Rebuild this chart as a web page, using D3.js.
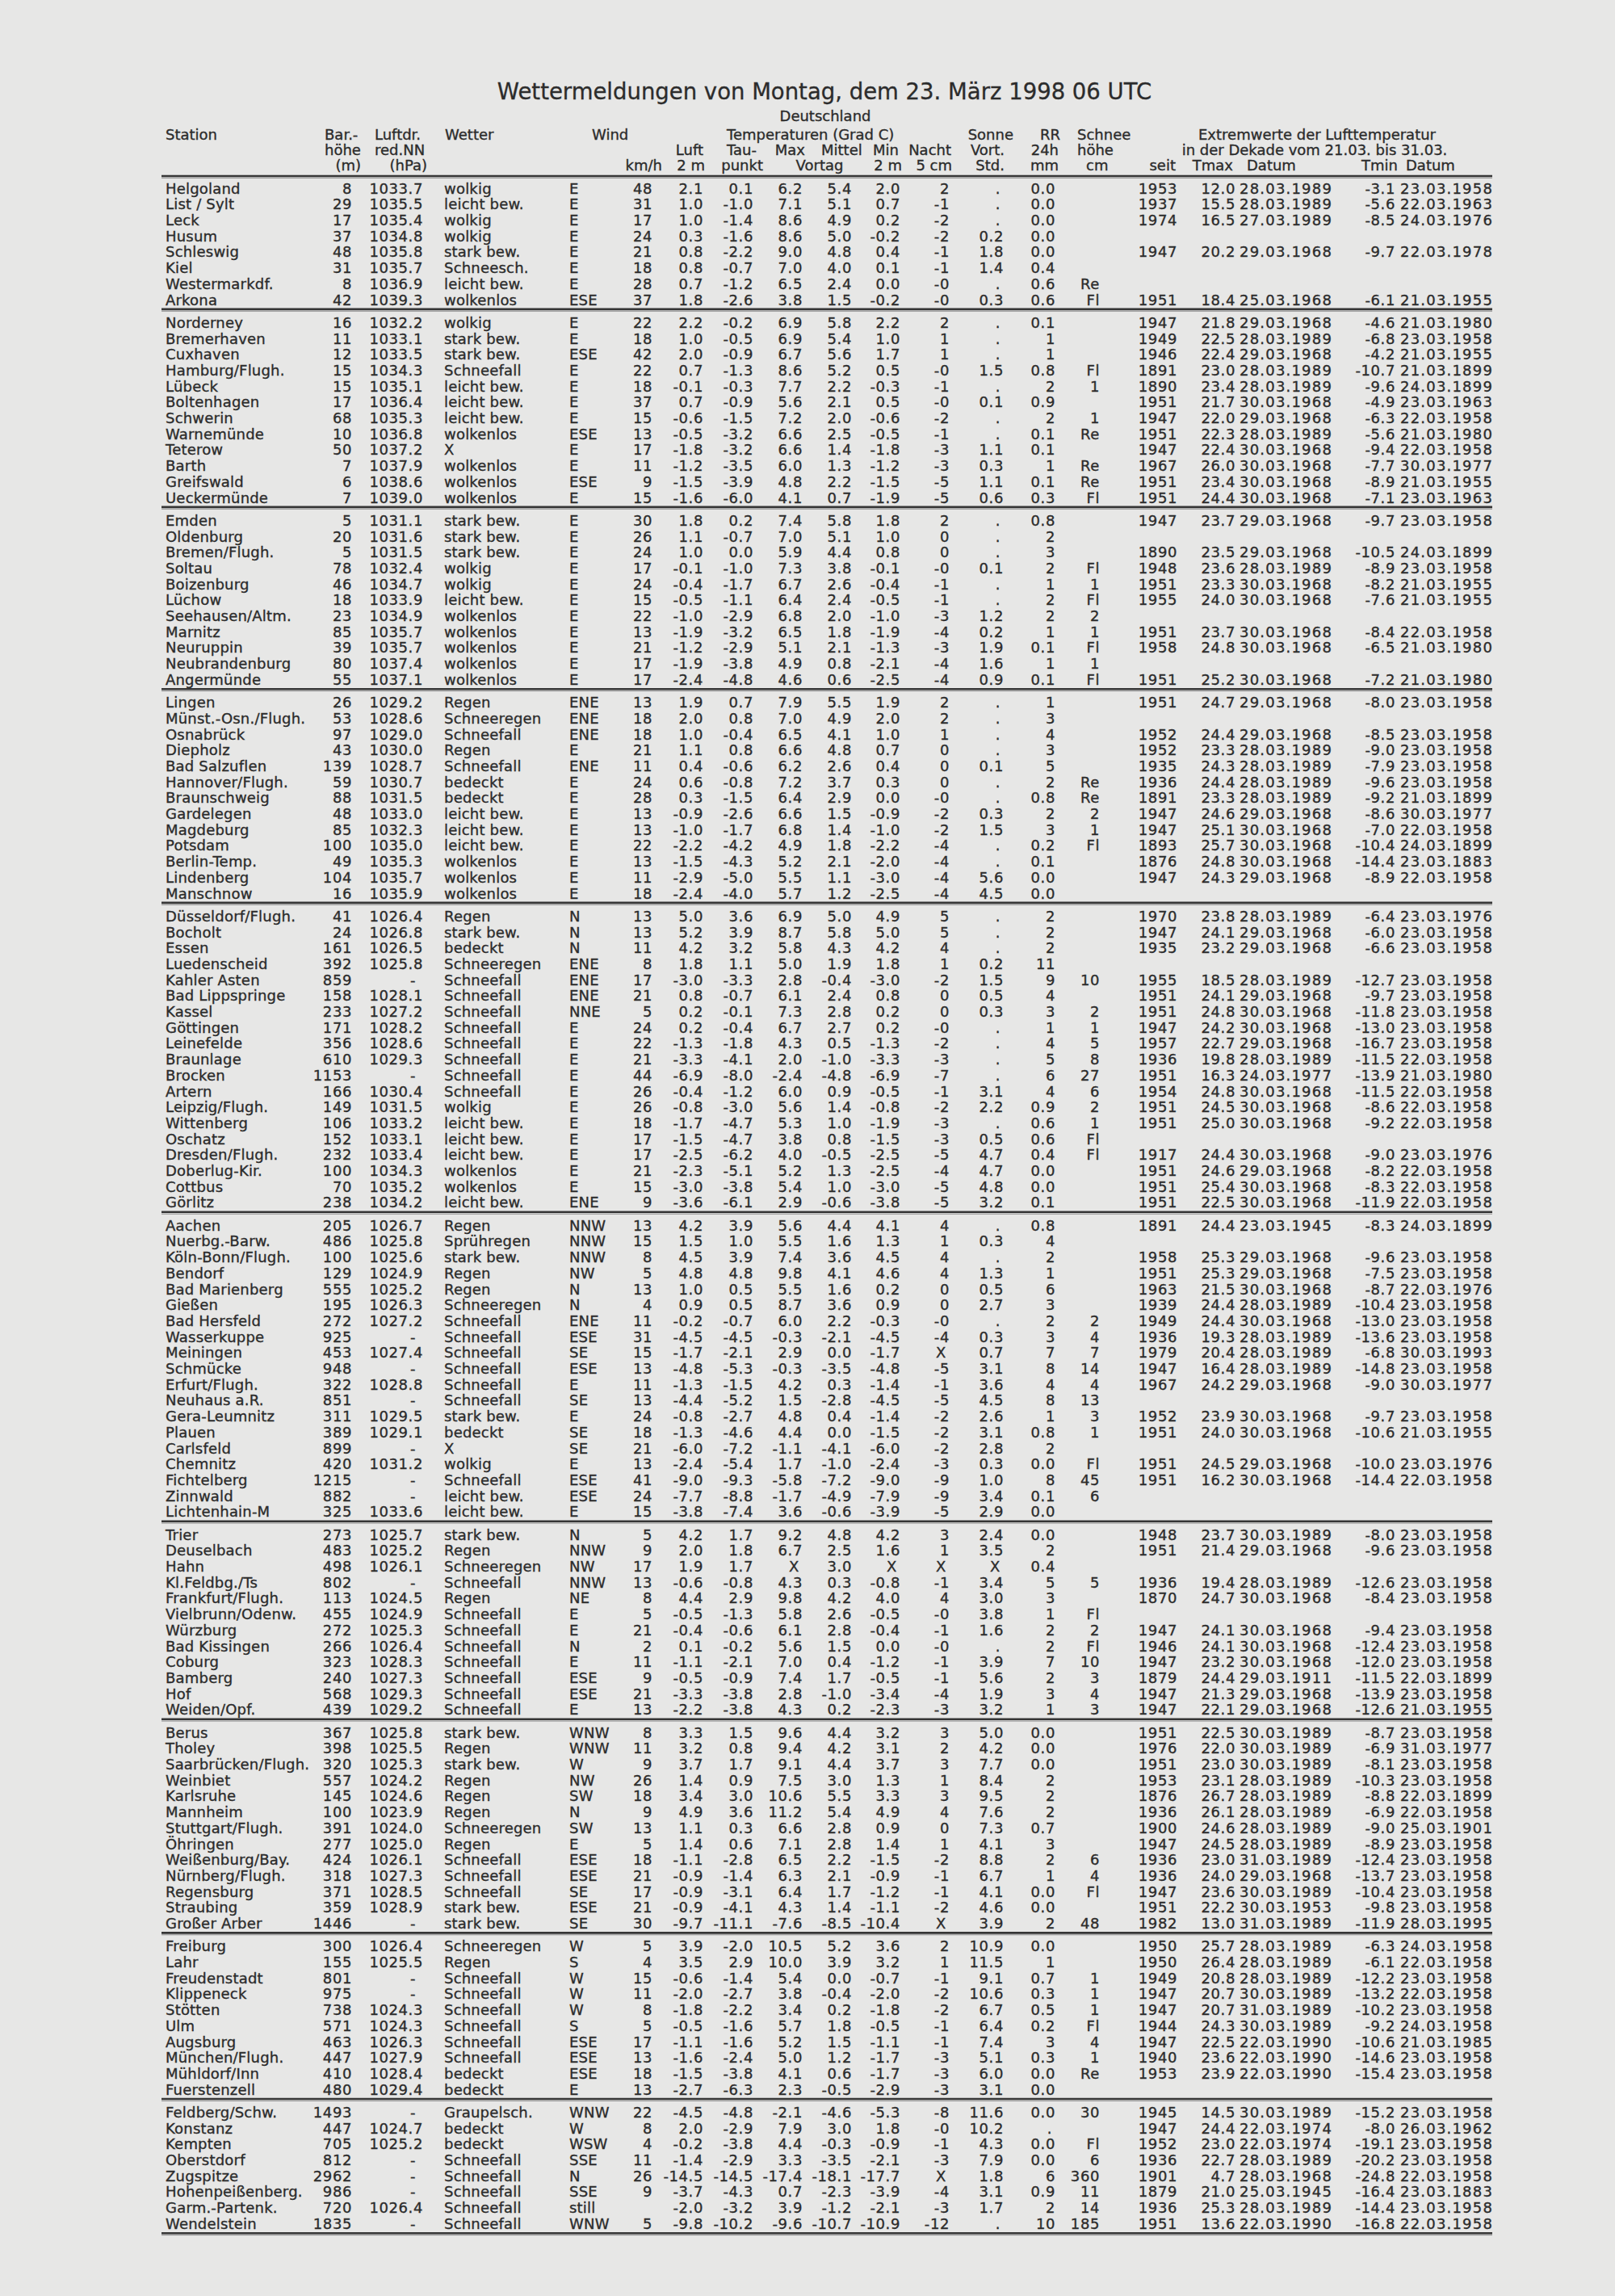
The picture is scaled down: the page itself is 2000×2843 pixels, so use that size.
<!DOCTYPE html>
<html><head><meta charset="utf-8">
<script src="https://cdn.jsdelivr.net/npm/d3@7"></script>
<style>
html,body{margin:0;padding:0;background:#e7e7e6;}
svg{display:block;}
text{font-family:"DejaVu Sans",sans-serif;fill:#2c2c2c;stroke:#2c2c2c;stroke-width:0.35px;}
</style></head><body><div id="chart"></div>
<script>
// ---------------- DATA ----------------
const title = "Wettermeldungen von Montag, dem 23. März 1998 06 UTC";
const subtitle = "Deutschland";
const sectionSizes = [8,12,11,13,19,19,12,13,10,8];

const stations = [
 "Helgoland","List / Sylt","Leck","Husum","Schleswig","Kiel","Westermarkdf.","Arkona",
 "Norderney","Bremerhaven","Cuxhaven","Hamburg/Flugh.","Lübeck","Boltenhagen","Schwerin","Warnemünde","Teterow","Barth","Greifswald","Ueckermünde",
 "Emden","Oldenburg","Bremen/Flugh.","Soltau","Boizenburg","Lüchow","Seehausen/Altm.","Marnitz","Neuruppin","Neubrandenburg","Angermünde",
 "Lingen","Münst.-Osn./Flugh.","Osnabrück","Diepholz","Bad Salzuflen","Hannover/Flugh.","Braunschweig","Gardelegen","Magdeburg","Potsdam","Berlin-Temp.","Lindenberg","Manschnow",
 "Düsseldorf/Flugh.","Bocholt","Essen","Luedenscheid","Kahler Asten","Bad Lippspringe","Kassel","Göttingen","Leinefelde","Braunlage","Brocken","Artern","Leipzig/Flugh.","Wittenberg","Oschatz","Dresden/Flugh.","Doberlug-Kir.","Cottbus","Görlitz",
 "Aachen","Nuerbg.-Barw.","Köln-Bonn/Flugh.","Bendorf","Bad Marienberg","Gießen","Bad Hersfeld","Wasserkuppe","Meiningen","Schmücke","Erfurt/Flugh.","Neuhaus a.R.","Gera-Leumnitz","Plauen","Carlsfeld","Chemnitz","Fichtelberg","Zinnwald","Lichtenhain-M",
 "Trier","Deuselbach","Hahn","Kl.Feldbg./Ts","Frankfurt/Flugh.","Vielbrunn/Odenw.","Würzburg","Bad Kissingen","Coburg","Bamberg","Hof","Weiden/Opf.",
 "Berus","Tholey","Saarbrücken/Flugh.","Weinbiet","Karlsruhe","Mannheim","Stuttgart/Flugh.","Öhringen","Weißenburg/Bay.","Nürnberg/Flugh.","Regensburg","Straubing","Großer Arber",
 "Freiburg","Lahr","Freudenstadt","Klippeneck","Stötten","Ulm","Augsburg","München/Flugh.","Mühldorf/Inn","Fuerstenzell",
 "Feldberg/Schw.","Konstanz","Kempten","Oberstdorf","Zugspitze","Hohenpeißenberg.","Garm.-Partenk.","Wendelstein"];

const barHeight = [
 "8","29","17","37","48","31","8","42",
 "16","11","12","15","15","17","68","10","50","7","6","7",
 "5","20","5","78","46","18","23","85","39","80","55",
 "26","53","97","43","139","59","88","48","85","100","49","104","16",
 "41","24","161","392","859","158","233","171","356","610","1153","166","149","106","152","232","100","70","238",
 "205","486","100","129","555","195","272","925","453","948","322","851","311","389","899","420","1215","882","325",
 "273","483","498","802","113","455","272","266","323","240","568","439",
 "367","398","320","557","145","100","391","277","424","318","371","359","1446",
 "300","155","801","975","738","571","463","447","410","480",
 "1493","447","705","812","2962","986","720","1835"];

const pressure = [
 "1033.7","1035.5","1035.4","1034.8","1035.8","1035.7","1036.9","1039.3",
 "1032.2","1033.1","1033.5","1034.3","1035.1","1036.4","1035.3","1036.8","1037.2","1037.9","1038.6","1039.0",
 "1031.1","1031.6","1031.5","1032.4","1034.7","1033.9","1034.9","1035.7","1035.7","1037.4","1037.1",
 "1029.2","1028.6","1029.0","1030.0","1028.7","1030.7","1031.5","1033.0","1032.3","1035.0","1035.3","1035.7","1035.9",
 "1026.4","1026.8","1026.5","1025.8","-","1028.1","1027.2","1028.2","1028.6","1029.3","-","1030.4","1031.5","1033.2","1033.1","1033.4","1034.3","1035.2","1034.2",
 "1026.7","1025.8","1025.6","1024.9","1025.2","1026.3","1027.2","-","1027.4","-","1028.8","-","1029.5","1029.1","-","1031.2","-","-","1033.6",
 "1025.7","1025.2","1026.1","-","1024.5","1024.9","1025.3","1026.4","1028.3","1027.3","1029.3","1029.2",
 "1025.8","1025.5","1025.3","1024.2","1024.6","1023.9","1024.0","1025.0","1026.1","1027.3","1028.5","1028.9","-",
 "1026.4","1025.5","-","-","1024.3","1024.3","1026.3","1027.9","1028.4","1029.4",
 "-","1024.7","1025.2","-","-","-","1026.4","-"];

const weather = [
 "wolkig","leicht bew.","wolkig","wolkig","stark bew.","Schneesch.","leicht bew.","wolkenlos",
 "wolkig","stark bew.","stark bew.","Schneefall","leicht bew.","leicht bew.","leicht bew.","wolkenlos","X","wolkenlos","wolkenlos","wolkenlos",
 "stark bew.","stark bew.","stark bew.","wolkig","wolkig","leicht bew.","wolkenlos","wolkenlos","wolkenlos","wolkenlos","wolkenlos",
 "Regen","Schneeregen","Schneefall","Regen","Schneefall","bedeckt","bedeckt","leicht bew.","leicht bew.","leicht bew.","wolkenlos","wolkenlos","wolkenlos",
 "Regen","stark bew.","bedeckt","Schneeregen","Schneefall","Schneefall","Schneefall","Schneefall","Schneefall","Schneefall","Schneefall","Schneefall","wolkig","leicht bew.","leicht bew.","leicht bew.","wolkenlos","wolkenlos","leicht bew.",
 "Regen","Sprühregen","stark bew.","Regen","Regen","Schneeregen","Schneefall","Schneefall","Schneefall","Schneefall","Schneefall","Schneefall","stark bew.","bedeckt","X","wolkig","Schneefall","leicht bew.","leicht bew.",
 "stark bew.","Regen","Schneeregen","Schneefall","Regen","Schneefall","Schneefall","Schneefall","Schneefall","Schneefall","Schneefall","Schneefall",
 "stark bew.","Regen","stark bew.","Regen","Regen","Regen","Schneeregen","Regen","Schneefall","Schneefall","Schneefall","stark bew.","stark bew.",
 "Schneeregen","Regen","Schneefall","Schneefall","Schneefall","Schneefall","Schneefall","Schneefall","bedeckt","bedeckt",
 "Graupelsch.","bedeckt","bedeckt","Schneefall","Schneefall","Schneefall","Schneefall","Schneefall"];

const windDir = [
 "E","E","E","E","E","E","E","ESE",
 "E","E","ESE","E","E","E","E","ESE","E","E","ESE","E",
 "E","E","E","E","E","E","E","E","E","E","E",
 "ENE","ENE","ENE","E","ENE","E","E","E","E","E","E","E","E",
 "N","N","N","ENE","ENE","ENE","NNE","E","E","E","E","E","E","E","E","E","E","E","ENE",
 "NNW","NNW","NNW","NW","N","N","ENE","ESE","SE","ESE","E","SE","E","SE","SE","E","ESE","ESE","E",
 "N","NNW","NW","NNW","NE","E","E","N","E","ESE","ESE","E",
 "WNW","WNW","W","NW","SW","N","SW","E","ESE","ESE","SE","ESE","SE",
 "W","S","W","W","W","S","ESE","ESE","ESE","E",
 "WNW","W","WSW","SSE","N","SSE","still","WNW"];

const windSpeed = [
 "48","31","17","24","21","18","28","37",
 "22","18","42","22","18","37","15","13","17","11","9","15",
 "30","26","24","17","24","15","22","13","21","17","17",
 "13","18","18","21","11","24","28","13","13","22","13","11","18",
 "13","13","11","8","17","21","5","24","22","21","44","26","26","18","17","17","21","15","9",
 "13","15","8","5","13","4","11","31","15","13","11","13","24","18","21","13","41","24","15",
 "5","9","17","13","8","5","21","2","11","9","21","13",
 "8","11","9","26","18","9","13","5","18","21","17","21","30",
 "5","4","15","11","8","5","17","13","18","13",
 "22","8","4","11","26","9","","5"];

const tempAir = [
 "2.1","1.0","1.0","0.3","0.8","0.8","0.7","1.8",
 "2.2","1.0","2.0","0.7","-0.1","0.7","-0.6","-0.5","-1.8","-1.2","-1.5","-1.6",
 "1.8","1.1","1.0","-0.1","-0.4","-0.5","-1.0","-1.9","-1.2","-1.9","-2.4",
 "1.9","2.0","1.0","1.1","0.4","0.6","0.3","-0.9","-1.0","-2.2","-1.5","-2.9","-2.4",
 "5.0","5.2","4.2","1.8","-3.0","0.8","0.2","0.2","-1.3","-3.3","-6.9","-0.4","-0.8","-1.7","-1.5","-2.5","-2.3","-3.0","-3.6",
 "4.2","1.5","4.5","4.8","1.0","0.9","-0.2","-4.5","-1.7","-4.8","-1.3","-4.4","-0.8","-1.3","-6.0","-2.4","-9.0","-7.7","-3.8",
 "4.2","2.0","1.9","-0.6","4.4","-0.5","-0.4","0.1","-1.1","-0.5","-3.3","-2.2",
 "3.3","3.2","3.7","1.4","3.4","4.9","1.1","1.4","-1.1","-0.9","-0.9","-0.9","-9.7",
 "3.9","3.5","-0.6","-2.0","-1.8","-0.5","-1.1","-1.6","-1.5","-2.7",
 "-4.5","2.0","-0.2","-1.4","-14.5","-3.7","-2.0","-9.8"];

const dewPoint = [
 "0.1","-1.0","-1.4","-1.6","-2.2","-0.7","-1.2","-2.6",
 "-0.2","-0.5","-0.9","-1.3","-0.3","-0.9","-1.5","-3.2","-3.2","-3.5","-3.9","-6.0",
 "0.2","-0.7","0.0","-1.0","-1.7","-1.1","-2.9","-3.2","-2.9","-3.8","-4.8",
 "0.7","0.8","-0.4","0.8","-0.6","-0.8","-1.5","-2.6","-1.7","-4.2","-4.3","-5.0","-4.0",
 "3.6","3.9","3.2","1.1","-3.3","-0.7","-0.1","-0.4","-1.8","-4.1","-8.0","-1.2","-3.0","-4.7","-4.7","-6.2","-5.1","-3.8","-6.1",
 "3.9","1.0","3.9","4.8","0.5","0.5","-0.7","-4.5","-2.1","-5.3","-1.5","-5.2","-2.7","-4.6","-7.2","-5.4","-9.3","-8.8","-7.4",
 "1.7","1.8","1.7","-0.8","2.9","-1.3","-0.6","-0.2","-2.1","-0.9","-3.8","-3.8",
 "1.5","0.8","1.7","0.9","3.0","3.6","0.3","0.6","-2.8","-1.4","-3.1","-4.1","-11.1",
 "-2.0","2.9","-1.4","-2.7","-2.2","-1.6","-1.6","-2.4","-3.8","-6.3",
 "-4.8","-2.9","-3.8","-2.9","-14.5","-4.3","-3.2","-10.2"];

const tempMax = [
 "6.2","7.1","8.6","8.6","9.0","7.0","6.5","3.8",
 "6.9","6.9","6.7","8.6","7.7","5.6","7.2","6.6","6.6","6.0","4.8","4.1",
 "7.4","7.0","5.9","7.3","6.7","6.4","6.8","6.5","5.1","4.9","4.6",
 "7.9","7.0","6.5","6.6","6.2","7.2","6.4","6.6","6.8","4.9","5.2","5.5","5.7",
 "6.9","8.7","5.8","5.0","2.8","6.1","7.3","6.7","4.3","2.0","-2.4","6.0","5.6","5.3","3.8","4.0","5.2","5.4","2.9",
 "5.6","5.5","7.4","9.8","5.5","8.7","6.0","-0.3","2.9","-0.3","4.2","1.5","4.8","4.4","-1.1","1.7","-5.8","-1.7","3.6",
 "9.2","6.7","X","4.3","9.8","5.8","6.1","5.6","7.0","7.4","2.8","4.3",
 "9.6","9.4","9.1","7.5","10.6","11.2","6.6","7.1","6.5","6.3","6.4","4.3","-7.6",
 "10.5","10.0","5.4","3.8","3.4","5.7","5.2","5.0","4.1","2.3",
 "-2.1","7.9","4.4","3.3","-17.4","0.7","3.9","-9.6"];

const tempMean = [
 "5.4","5.1","4.9","5.0","4.8","4.0","2.4","1.5",
 "5.8","5.4","5.6","5.2","2.2","2.1","2.0","2.5","1.4","1.3","2.2","0.7",
 "5.8","5.1","4.4","3.8","2.6","2.4","2.0","1.8","2.1","0.8","0.6",
 "5.5","4.9","4.1","4.8","2.6","3.7","2.9","1.5","1.4","1.8","2.1","1.1","1.2",
 "5.0","5.8","4.3","1.9","-0.4","2.4","2.8","2.7","0.5","-1.0","-4.8","0.9","1.4","1.0","0.8","-0.5","1.3","1.0","-0.6",
 "4.4","1.6","3.6","4.1","1.6","3.6","2.2","-2.1","0.0","-3.5","0.3","-2.8","0.4","0.0","-4.1","-1.0","-7.2","-4.9","-0.6",
 "4.8","2.5","3.0","0.3","4.2","2.6","2.8","1.5","0.4","1.7","-1.0","0.2",
 "4.4","4.2","4.4","3.0","5.5","5.4","2.8","2.8","2.2","2.1","1.7","1.4","-8.5",
 "5.2","3.9","0.0","-0.4","0.2","1.8","1.5","1.2","0.6","-0.5",
 "-4.6","3.0","-0.3","-3.5","-18.1","-2.3","-1.2","-10.7"];

const tempMin = [
 "2.0","0.7","0.2","-0.2","0.4","0.1","0.0","-0.2",
 "2.2","1.0","1.7","0.5","-0.3","0.5","-0.6","-0.5","-1.8","-1.2","-1.5","-1.9",
 "1.8","1.0","0.8","-0.1","-0.4","-0.5","-1.0","-1.9","-1.3","-2.1","-2.5",
 "1.9","2.0","1.0","0.7","0.4","0.3","0.0","-0.9","-1.0","-2.2","-2.0","-3.0","-2.5",
 "4.9","5.0","4.2","1.8","-3.0","0.8","0.2","0.2","-1.3","-3.3","-6.9","-0.5","-0.8","-1.9","-1.5","-2.5","-2.5","-3.0","-3.8",
 "4.1","1.3","4.5","4.6","0.2","0.9","-0.3","-4.5","-1.7","-4.8","-1.4","-4.5","-1.4","-1.5","-6.0","-2.4","-9.0","-7.9","-3.9",
 "4.2","1.6","X","-0.8","4.0","-0.5","-0.4","0.0","-1.2","-0.5","-3.4","-2.3",
 "3.2","3.1","3.7","1.3","3.3","4.9","0.9","1.4","-1.5","-0.9","-1.2","-1.1","-10.4",
 "3.6","3.2","-0.7","-2.0","-1.8","-0.5","-1.1","-1.7","-1.7","-2.9",
 "-5.3","1.8","-0.9","-2.1","-17.7","-3.9","-2.1","-10.9"];

const tempNight = [
 "2","-1","-2","-2","-1","-1","-0","-0",
 "2","1","1","-0","-1","-0","-2","-1","-3","-3","-5","-5",
 "2","0","0","-0","-1","-1","-3","-4","-3","-4","-4",
 "2","2","1","0","0","0","-0","-2","-2","-4","-4","-4","-4",
 "5","5","4","1","-2","0","0","-0","-2","-3","-7","-1","-2","-3","-3","-5","-4","-5","-5",
 "4","1","4","4","0","0","-0","-4","X","-5","-1","-5","-2","-2","-2","-3","-9","-9","-5",
 "3","1","X","-1","4","-0","-1","-0","-1","-1","-4","-3",
 "3","2","3","1","3","4","0","1","-2","-1","-1","-2","X",
 "2","1","-1","-2","-2","-1","-1","-3","-3","-3",
 "-8","-0","-1","-3","X","-4","-3","-12"];

const sunHours = [
 ".",".",".","0.2","1.8","1.4",".","0.3",
 ".",".",".","1.5",".","0.1",".",".","1.1","0.3","1.1","0.6",
 ".",".",".","0.1",".",".","1.2","0.2","1.9","1.6","0.9",
 ".",".",".",".","0.1",".",".","0.3","1.5",".",".","5.6","4.5",
 ".",".",".","0.2","1.5","0.5","0.3",".",".",".",".","3.1","2.2",".","0.5","4.7","4.7","4.8","3.2",
 ".","0.3",".","1.3","0.5","2.7",".","0.3","0.7","3.1","3.6","4.5","2.6","3.1","2.8","0.3","1.0","3.4","2.9",
 "2.4","3.5","X","3.4","3.0","3.8","1.6",".","3.9","5.6","1.9","3.2",
 "5.0","4.2","7.7","8.4","9.5","7.6","7.3","4.1","8.8","6.7","4.1","4.6","3.9",
 "10.9","11.5","9.1","10.6","6.7","6.4","7.4","5.1","6.0","3.1",
 "11.6","10.2","4.3","7.9","1.8","3.1","1.7","."];

const rain24h = [
 "0.0","0.0","0.0","0.0","0.0","0.4","0.6","0.6",
 "0.1","1","1","0.8","2","0.9","2","0.1","0.1","1","0.1","0.3",
 "0.8","2","3","2","1","2","2","1","0.1","1","0.1",
 "1","3","4","3","5","2","0.8","2","3","0.2","0.1","0.0","0.0",
 "2","2","2","11","9","4","3","1","4","5","6","4","0.9","0.6","0.6","0.4","0.0","0.0","0.1",
 "0.8","4","2","1","6","3","2","3","7","8","4","8","1","0.8","2","0.0","8","0.1","0.0",
 "0.0","2","0.4","5","3","1","2","2","7","2","3","1",
 "0.0","0.0","0.0","2","2","2","0.7","3","2","1","0.0","0.0","2",
 "0.0","1","0.7","0.3","0.5","0.2","3","0.3","0.0","0.0",
 "0.0",".","0.0","0.0","6","0.9","2","10"];

const snowDepth = [
 "","","","","","","Re","Fl",
 "","","","Fl","1","","1","Re","","Re","Re","Fl",
 "","","","Fl","1","Fl","2","1","Fl","1","Fl",
 "","","","","","Re","Re","2","1","Fl","","","",
 "","","","","10","","2","1","5","8","27","6","2","1","Fl","Fl","","","",
 "","","","","","","2","4","7","14","4","13","3","1","","Fl","45","6","",
 "","","","5","","Fl","2","Fl","10","3","4","3",
 "","","","","","","","","6","4","Fl","","48",
 "","","1","1","1","Fl","4","1","Re","",
 "30","","Fl","6","360","11","14","185"];

const recordSince = [
 "1953","1937","1974","","1947","","","1951",
 "1947","1949","1946","1891","1890","1951","1947","1951","1947","1967","1951","1951",
 "1947","","1890","1948","1951","1955","","1951","1958","","1951",
 "1951","","1952","1952","1935","1936","1891","1947","1947","1893","1876","1947","",
 "1970","1947","1935","","1955","1951","1951","1947","1957","1936","1951","1954","1951","1951","","1917","1951","1951","1951",
 "1891","","1958","1951","1963","1939","1949","1936","1979","1947","1967","","1952","1951","","1951","1951","","",
 "1948","1951","","1936","1870","","1947","1946","1947","1879","1947","1947",
 "1951","1976","1951","1953","1876","1936","1900","1947","1936","1936","1947","1951","1982",
 "1950","1950","1949","1947","1947","1944","1947","1940","1953","",
 "1945","1947","1952","1936","1901","1879","1936","1951"];

const recordMax = [
 "12.0","15.5","16.5","","20.2","","","18.4",
 "21.8","22.5","22.4","23.0","23.4","21.7","22.0","22.3","22.4","26.0","23.4","24.4",
 "23.7","","23.5","23.6","23.3","24.0","","23.7","24.8","","25.2",
 "24.7","","24.4","23.3","24.3","24.4","23.3","24.6","25.1","25.7","24.8","24.3","",
 "23.8","24.1","23.2","","18.5","24.1","24.8","24.2","22.7","19.8","16.3","24.8","24.5","25.0","","24.4","24.6","25.4","22.5",
 "24.4","","25.3","25.3","21.5","24.4","24.4","19.3","20.4","16.4","24.2","","23.9","24.0","","24.5","16.2","","",
 "23.7","21.4","","19.4","24.7","","24.1","24.1","23.2","24.4","21.3","22.1",
 "22.5","22.0","23.0","23.1","26.7","26.1","24.6","24.5","23.0","24.0","23.6","22.2","13.0",
 "25.7","26.4","20.8","20.7","20.7","24.3","22.5","23.6","23.9","",
 "14.5","24.4","23.0","22.7","4.7","21.0","25.3","13.6"];

const recordMaxDate = [
 "28.03.1989","28.03.1989","27.03.1989","","29.03.1968","","","25.03.1968",
 "29.03.1968","28.03.1989","29.03.1968","28.03.1989","28.03.1989","30.03.1968","29.03.1968","28.03.1989","30.03.1968","30.03.1968","30.03.1968","30.03.1968",
 "29.03.1968","","29.03.1968","28.03.1989","30.03.1968","30.03.1968","","30.03.1968","30.03.1968","","30.03.1968",
 "29.03.1968","","29.03.1968","28.03.1989","28.03.1989","28.03.1989","28.03.1989","29.03.1968","30.03.1968","30.03.1968","30.03.1968","29.03.1968","",
 "28.03.1989","29.03.1968","29.03.1968","","28.03.1989","29.03.1968","30.03.1968","30.03.1968","29.03.1968","28.03.1989","24.03.1977","30.03.1968","30.03.1968","30.03.1968","","30.03.1968","29.03.1968","30.03.1968","30.03.1968",
 "23.03.1945","","29.03.1968","29.03.1968","30.03.1968","28.03.1989","30.03.1968","28.03.1989","28.03.1989","28.03.1989","29.03.1968","","30.03.1968","30.03.1968","","29.03.1968","30.03.1968","","",
 "30.03.1989","29.03.1968","","28.03.1989","30.03.1968","","30.03.1968","30.03.1968","30.03.1968","29.03.1911","29.03.1968","29.03.1968",
 "30.03.1989","30.03.1989","30.03.1989","28.03.1989","28.03.1989","28.03.1989","28.03.1989","28.03.1989","31.03.1989","29.03.1968","30.03.1989","30.03.1953","31.03.1989",
 "28.03.1989","28.03.1989","28.03.1989","30.03.1989","31.03.1989","30.03.1989","22.03.1990","22.03.1990","22.03.1990","",
 "30.03.1989","22.03.1974","22.03.1974","28.03.1989","28.03.1968","25.03.1945","28.03.1989","22.03.1990"];

const recordMin = [
 "-3.1","-5.6","-8.5","","-9.7","","","-6.1",
 "-4.6","-6.8","-4.2","-10.7","-9.6","-4.9","-6.3","-5.6","-9.4","-7.7","-8.9","-7.1",
 "-9.7","","-10.5","-8.9","-8.2","-7.6","","-8.4","-6.5","","-7.2",
 "-8.0","","-8.5","-9.0","-7.9","-9.6","-9.2","-8.6","-7.0","-10.4","-14.4","-8.9","",
 "-6.4","-6.0","-6.6","","-12.7","-9.7","-11.8","-13.0","-16.7","-11.5","-13.9","-11.5","-8.6","-9.2","","-9.0","-8.2","-8.3","-11.9",
 "-8.3","","-9.6","-7.5","-8.7","-10.4","-13.0","-13.6","-6.8","-14.8","-9.0","","-9.7","-10.6","","-10.0","-14.4","","",
 "-8.0","-9.6","","-12.6","-8.4","","-9.4","-12.4","-12.0","-11.5","-13.9","-12.6",
 "-8.7","-6.9","-8.1","-10.3","-8.8","-6.9","-9.0","-8.9","-12.4","-13.7","-10.4","-9.8","-11.9",
 "-6.3","-6.1","-12.2","-13.2","-10.2","-9.2","-10.6","-14.6","-15.4","",
 "-15.2","-8.0","-19.1","-20.2","-24.8","-16.4","-14.4","-16.8"];

const recordMinDate = [
 "23.03.1958","22.03.1963","24.03.1976","","22.03.1978","","","21.03.1955",
 "21.03.1980","23.03.1958","21.03.1955","21.03.1899","24.03.1899","23.03.1963","22.03.1958","21.03.1980","22.03.1958","30.03.1977","21.03.1955","23.03.1963",
 "23.03.1958","","24.03.1899","23.03.1958","21.03.1955","21.03.1955","","22.03.1958","21.03.1980","","21.03.1980",
 "23.03.1958","","23.03.1958","23.03.1958","23.03.1958","23.03.1958","21.03.1899","30.03.1977","22.03.1958","24.03.1899","23.03.1883","22.03.1958","",
 "23.03.1976","23.03.1958","23.03.1958","","23.03.1958","23.03.1958","23.03.1958","23.03.1958","23.03.1958","22.03.1958","21.03.1980","22.03.1958","22.03.1958","22.03.1958","","23.03.1976","22.03.1958","22.03.1958","22.03.1958",
 "24.03.1899","","23.03.1958","23.03.1958","22.03.1976","23.03.1958","23.03.1958","23.03.1958","30.03.1993","23.03.1958","30.03.1977","","23.03.1958","21.03.1955","","23.03.1976","22.03.1958","","",
 "23.03.1958","23.03.1958","","23.03.1958","23.03.1958","","23.03.1958","23.03.1958","23.03.1958","22.03.1899","23.03.1958","21.03.1955",
 "23.03.1958","31.03.1977","23.03.1958","23.03.1958","22.03.1899","22.03.1958","25.03.1901","23.03.1958","23.03.1958","23.03.1958","23.03.1958","23.03.1958","28.03.1995",
 "24.03.1958","22.03.1958","23.03.1958","22.03.1958","23.03.1958","24.03.1958","21.03.1985","23.03.1958","23.03.1958","",
 "23.03.1958","26.03.1962","23.03.1958","23.03.1958","22.03.1958","23.03.1883","23.03.1958","22.03.1958"];

// header labels: [text, row]
const headerLabels = [
 ["Station",1],["Bar.-",1],["Luftdr.",1],["Wetter",1],["Wind",1],["Temperaturen (Grad C)",1],["Sonne",1],["RR",1],["Schnee",1],["Extremwerte der Lufttemperatur",1],
 ["höhe",2],["red.NN",2],["Luft",2],["Tau-",2],["Max",2],["Mittel",2],["Min",2],["Nacht",2],["Vort.",2],["24h",2],["höhe",2],["in der Dekade vom 21.03. bis 31.03.",2],
 ["(m)",3],["(hPa)",3],["km/h",3],["2 m",3],["punkt",3],["Vortag",3],["2 m",3],["5 cm",3],["Std.",3],["mm",3],["cm",3],["seit",3],["Tmax",3],["Datum",3],["Tmin",3],["Datum",3]
];

// ---------------- LAYOUT ----------------
const W = 2000, H = 2843;
const FS = 18;
const Y0 = 233, PITCH = 19.7, GAP = 8.6, BASE = 6.6;
const LINE_X0 = 200, LINE_X1 = 1848;

const headerPos = [
 [205,"start"],[402,"start"],[464,"start"],[551,"start"],[733,"start"],[900,"start"],[1255,"end"],[1313,"end"],[1334,"start"],[1631,"middle"],
 [402,"start"],[464,"start"],[871,"end"],[937,"end"],[997,"end"],[1017,"start"],[1113,"end"],[1178,"end"],[1244,"end"],[1311,"end"],[1334,"start"],[1628,"middle"],
 [447,"end"],[529,"end"],[820,"end"],[873,"end"],[945,"end"],[1015,"middle"],[1117,"end"],[1179,"end"],[1244,"end"],[1311,"end"],[1345,"start"],[1456,"end"],[1527,"end"],[1544,"start"],[1731,"end"],[1741,"start"]
];
const headerY = {1:173, 2:192, 3:211};

const columns = [
 {v: stations, x: 205, a: "start"},
 {v: barHeight, x: 436, a: "end", num: true},
 {v: pressure, x: 524, a: "end", num: true},
 {v: weather, x: 550, a: "start"},
 {v: windDir, x: 705, a: "start"},
 {v: windSpeed, x: 808, a: "end", num: true},
 {v: tempAir, x: 871, a: "end", num: true},
 {v: dewPoint, x: 933, a: "end", num: true},
 {v: tempMax, x: 994, a: "end", num: true},
 {v: tempMean, x: 1055, a: "end", num: true},
 {v: tempMin, x: 1115, a: "end", num: true},
 {v: tempNight, x: 1176, a: "end", num: true},
 {v: sunHours, x: 1243, a: "end", num: true},
 {v: rain24h, x: 1307, a: "end", num: true},
 {v: snowDepth, x: 1362, a: "end", num: true},
 {v: recordSince, x: 1458, a: "end", num: true},
 {v: recordMax, x: 1530, a: "end", num: true},
 {v: recordMaxDate, x: 1535, a: "start", num: true, date: true},
 {v: recordMin, x: 1728, a: "end", num: true},
 {v: recordMinDate, x: 1734, a: "start", num: true, date: true}
];

// ---------------- DRAW ----------------
const svg = d3.select("#chart").append("svg").attr("width", W).attr("height", H);
svg.append("rect").attr("width", W).attr("height", H).attr("fill", "#e7e7e6");

const sectionOf = [];
sectionSizes.forEach((n, s) => { for (let k = 0; k < n; k++) sectionOf.push(s); });
const slot = i => i + sectionOf[i] * GAP / PITCH;
const y = d3.scaleLinear().domain([0, 1]).range([Y0, Y0 + PITCH]);

svg.append("text").attr("x", 1021).attr("y", 123).attr("text-anchor", "middle")
  .attr("font-size", 27.5).style("stroke-width", "0.3px").text(title);
svg.append("text").attr("x", 1022).attr("y", 150).attr("text-anchor", "middle")
  .attr("font-size", FS).text(subtitle);

svg.append("g").selectAll("text").data(headerLabels).join("text")
  .attr("x", (d, i) => headerPos[i][0])
  .attr("text-anchor", (d, i) => headerPos[i][1])
  .attr("y", d => headerY[d[1]])
  .attr("font-size", FS)
  .text(d => d[0]);

// horizontal rules: under header, under every section
const sectionEnds = Array.from(d3.cumsum(sectionSizes), c => c - 1);
const ruleYs = [218, ...sectionEnds.map(i => y(slot(i)) + 12)];
svg.append("g").selectAll("line").data(ruleYs).join("line")
  .attr("x1", LINE_X0).attr("x2", LINE_X1)
  .attr("y1", d => d).attr("y2", d => d)
  .attr("stroke", "#353535").attr("stroke-width", 2.6);
svg.append("g").selectAll("line").data(ruleYs).join("line")
  .attr("x1", LINE_X0).attr("x2", LINE_X1)
  .attr("y1", d => d + 2.4).attr("y2", d => d + 2.4)
  .attr("stroke", "#8f8f8f").attr("stroke-width", 1);

// cells
const body = svg.append("g");
columns.forEach(col => {
  const cells = col.v.map((t, i) => ({t, i})).filter(d => d.t !== "");
  body.append("g").selectAll("text").data(cells).join("text")
    .attr("x", d => {
      if (col.a === "end" && d.t === ".") return col.x - 4;
      if (col.a === "end" && d.t === "-") return col.x - 9;
      if (col.a === "end" && d.t === "X") return col.x - 4;
      return col.x;
    })
    .attr("y", d => y(slot(d.i)) + BASE)
    .attr("text-anchor", col.a)
    .attr("font-size", FS)
    .attr("letter-spacing", col.date ? 1.2 : (col.num ? 0.6 : 0.2))
    .text(d => d.t);
});
</script></body></html>
